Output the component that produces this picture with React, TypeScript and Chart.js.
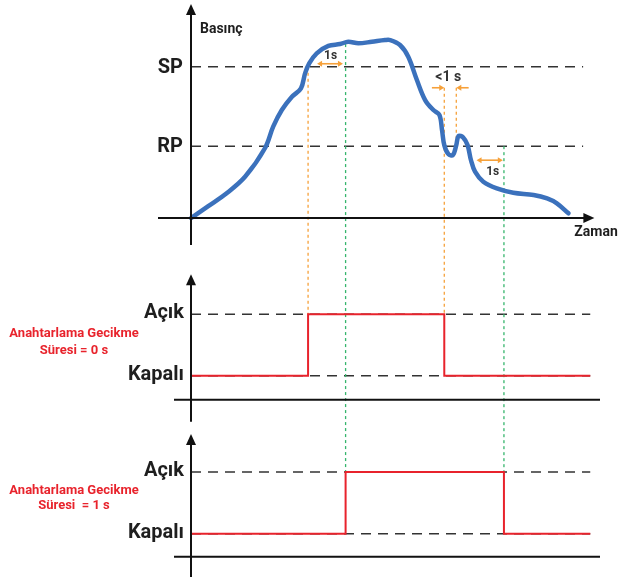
import React, { useEffect, useRef } from "react";
import { Chart, registerables } from "chart.js";

Chart.register(...registerables);

// ---- Data ----
// Pressure curve (time in s, pressure in arbitrary units)
const timeS = [0, 0.46, 0.95, 1.44, 1.97, 2.19, 2.42, 2.69, 2.93, 3.04, 3.15, 3.35, 3.66, 3.97, 4.19, 4.46, 4.82, 5.17, 5.31, 5.57, 5.79, 6.02, 6.24, 6.46, 6.62, 6.69, 6.75, 6.86, 6.98, 7.07, 7.13, 7.25, 7.37, 7.46, 7.57, 7.79, 8.15, 8.59, 9.13, 9.49, 9.75, 10.06];
const pressure = [0, 0.63, 1.31, 2.18, 3.69, 4.83, 5.71, 6.41, 6.86, 7.65, 8.18, 8.71, 9.1, 9.2, 9.32, 9.24, 9.32, 9.41, 9.41, 9.15, 8.53, 7.3, 6.24, 5.71, 5.45, 4.65, 3.86, 3.38, 3.33, 3.86, 4.34, 4.27, 3.86, 3.07, 2.45, 1.92, 1.57, 1.34, 1.22, 1.04, 0.78, 0.25];

const pressureTickLabels = ["SP", "RP"];
const pressureTickValues = [8, 3.8];

// Event times (s)
const spCrossUp = 3.12;
const rpCrossDown = 6.75;
const rpCrossBack = 7.07;
const rpCrossFinal = 7.34;
const delaySeconds = 1;
const endTime = 10.64;

// Switching output, delay = 0 s
const signal0Times = [0, spCrossUp, rpCrossDown, endTime];
const signal0States = [0, 1, 0, 0];
// Switching output, delay = 1 s
const signal1Times = [0, spCrossUp + delaySeconds, rpCrossFinal + delaySeconds, endTime];
const signal1States = [0, 1, 0, 0];

const stateLabels = ["Açık", "Kapalı"];
const stateValues = [1, 0];

const delayLabels0 = ["Anahtarlama Gecikme", "Süresi = 0 s"];
const delayLabels1 = ["Anahtarlama Gecikme", "Süresi  = 1 s"];

const xAxisTitle = "Zaman";
const yAxisTitle = "Basınç";
const annTop = "1s";
const annMid = "<1 s";
const annBottom = "1s";

// ---- Styles ----
const FONT = "Roboto, 'Noto Sans', 'Liberation Sans', sans-serif";
const BLUE = "#3b71bc";
const RED = "#e8232c";
const ORANGE = "#f6a13a";
const GREEN = "#35b56c";
const DASH_GRAY = "#333333";
const AXIS = "#111111";
const TEXT = "#1e1e1e";

function seg(ctx: CanvasRenderingContext2D, x1: number, y1: number, x2: number, y2: number) {
  ctx.beginPath();
  ctx.moveTo(x1, y1);
  ctx.lineTo(x2, y2);
  ctx.stroke();
}

function tri(ctx: CanvasRenderingContext2D, pts: number[][]) {
  ctx.beginPath();
  ctx.moveTo(pts[0][0], pts[0][1]);
  ctx.lineTo(pts[1][0], pts[1][1]);
  ctx.lineTo(pts[2][0], pts[2][1]);
  ctx.closePath();
  ctx.fill();
}

function upArrowAxis(ctx: CanvasRenderingContext2D, x: number, yBottom: number, yTip: number) {
  seg(ctx, x, yBottom, x, yTip + 8);
  tri(ctx, [[x, yTip], [x - 5, yTip + 11], [x + 5, yTip + 11]]);
}

function rightArrowAxis(ctx: CanvasRenderingContext2D, y: number, xLeft: number, xTip: number) {
  seg(ctx, xLeft, y, xTip - 8, y);
  tri(ctx, [[xTip, y], [xTip - 11, y - 5], [xTip - 11, y + 5]]);
}

function smallArrow(ctx: CanvasRenderingContext2D, xFrom: number, xTip: number, y: number) {
  const d = xTip > xFrom ? 1 : -1;
  seg(ctx, xFrom, y, xTip - d * 3, y);
  tri(ctx, [[xTip, y], [xTip - d * 5, y - 3], [xTip - d * 5, y + 3]]);
}

function doubleArrow(ctx: CanvasRenderingContext2D, x1: number, x2: number, y: number) {
  seg(ctx, x1 + 3, y, x2 - 3, y);
  tri(ctx, [[x1, y], [x1 + 5, y - 3], [x1 + 5, y + 3]]);
  tri(ctx, [[x2, y], [x2 - 5, y - 3], [x2 - 5, y + 3]]);
}

const overlayPlugin = {
  id: "overlay",
  beforeDatasetsDraw(chart: any) {
    const ctx: CanvasRenderingContext2D = chart.ctx;
    const x = chart.scales.x;
    const yP = chart.scales.yP;
    const y0 = chart.scales.y0;
    const y1 = chart.scales.y1;
    const X = (t: number) => x.getPixelForValue(t);
    ctx.save();
    // horizontal dashed reference lines
    ctx.strokeStyle = DASH_GRAY;
    ctx.lineWidth = 1.5;
    ctx.setLineDash([10, 7]);
    pressureTickValues.forEach((v) => seg(ctx, X(0), yP.getPixelForValue(v), X(10.45), yP.getPixelForValue(v)));
    stateValues.forEach((v) => {
      seg(ctx, X(0), y0.getPixelForValue(v), X(endTime), y0.getPixelForValue(v));
      seg(ctx, X(0), y1.getPixelForValue(v), X(endTime), y1.getPixelForValue(v));
    });
    // vertical dotted event lines
    ctx.setLineDash([3, 3]);
    ctx.lineWidth = 1.3;
    const annY = yP.getPixelForValue(pressureTickValues[0]) + 21;
    ctx.strokeStyle = ORANGE;
    seg(ctx, X(spCrossUp), yP.getPixelForValue(pressureTickValues[0]), X(spCrossUp), y0.getPixelForValue(1));
    seg(ctx, X(rpCrossDown), annY, X(rpCrossDown), y0.getPixelForValue(1));
    seg(ctx, X(rpCrossBack), annY, X(rpCrossBack), yP.getPixelForValue(4.0));
    ctx.strokeStyle = GREEN;
    seg(ctx, X(spCrossUp + delaySeconds), yP.getPixelForValue(9.2), X(spCrossUp + delaySeconds), y1.getPixelForValue(1));
    seg(ctx, X(rpCrossFinal + delaySeconds), yP.getPixelForValue(pressureTickValues[1]), X(rpCrossFinal + delaySeconds), y1.getPixelForValue(1));
    ctx.restore();
  },
  afterDatasetsDraw(chart: any) {
    const ctx: CanvasRenderingContext2D = chart.ctx;
    const x = chart.scales.x;
    const yP = chart.scales.yP;
    const y0 = chart.scales.y0;
    const y1 = chart.scales.y1;
    const X = (t: number) => x.getPixelForValue(t);
    const ax = X(0);
    ctx.save();
    ctx.setLineDash([]);
    ctx.strokeStyle = AXIS;
    ctx.fillStyle = AXIS;
    ctx.lineWidth = 2;

    // top panel axes
    const p0 = yP.getPixelForValue(0);
    upArrowAxis(ctx, ax, p0 + 27, 4);
    rightArrowAxis(ctx, p0, ax - 33, X(10.75));

    // panel 2 axes
    const k0 = y0.getPixelForValue(0);
    const a0 = y0.getPixelForValue(1);
    upArrowAxis(ctx, ax, k0 + 46, a0 - 40);
    seg(ctx, ax - 17, k0 + 24, X(10.9), k0 + 24);

    // panel 3 axes
    const k1 = y1.getPixelForValue(0);
    const a1 = y1.getPixelForValue(1);
    upArrowAxis(ctx, ax, chart.height, a1 - 38);
    seg(ctx, ax - 17, k1 + 23, X(10.9), k1 + 23);

    // axis titles
    ctx.fillStyle = TEXT;
    ctx.textBaseline = "middle";
    ctx.textAlign = "left";
    ctx.font = `bold 14px ${FONT}`;
    ctx.fillText(yAxisTitle, ax + 9, 29);
    ctx.fillText(xAxisTitle, X(10.75) - 20, p0 + 14);

    // level labels
    ctx.textAlign = "right";
    ctx.font = `bold 20px ${FONT}`;
    pressureTickValues.forEach((v, i) => ctx.fillText(pressureTickLabels[i], ax - 8, yP.getPixelForValue(v) + 1));
    stateValues.forEach((v, i) => {
      ctx.fillText(stateLabels[i], ax - 7, y0.getPixelForValue(v) - 1);
      ctx.fillText(stateLabels[i], ax - 7, y1.getPixelForValue(v) - 1);
    });

    // delay labels
    ctx.fillStyle = RED;
    ctx.textAlign = "center";
    ctx.font = `bold 13px ${FONT}`;
    delayLabels0.forEach((s, i) => ctx.fillText(s, 74, a0 + 19 + i * 17));
    delayLabels1.forEach((s, i) => ctx.fillText(s, 74, a1 + 19 + i * 15));

    // annotations
    const spPx = yP.getPixelForValue(pressureTickValues[0]);
    const rpPx = yP.getPixelForValue(pressureTickValues[1]);
    ctx.strokeStyle = ORANGE;
    ctx.fillStyle = ORANGE;
    ctx.lineWidth = 1.6;
    doubleArrow(ctx, X(spCrossUp + 0.24), X(spCrossUp + 0.93), spPx - 3);
    smallArrow(ctx, X(rpCrossDown - 0.33), X(rpCrossDown), spPx + 21);
    smallArrow(ctx, X(rpCrossBack + 0.33), X(rpCrossBack), spPx + 21);
    doubleArrow(ctx, X(rpCrossFinal + 0.27), X(rpCrossFinal + 0.97), rpPx + 14);

    ctx.fillStyle = "#333333";
    ctx.textAlign = "center";
    ctx.font = `bold 12px ${FONT}`;
    ctx.fillText(annTop, X(spCrossUp + 0.6), spPx - 11);
    ctx.fillText(annBottom, X(rpCrossFinal + 0.7), rpPx + 26);
    ctx.font = `bold 14px ${FONT}`;
    ctx.fillText(annMid, (X(rpCrossDown) + X(rpCrossBack)) / 2 - 2, spPx + 11);

    ctx.restore();
  },
};

export default function App() {
  const canvasRef = useRef<HTMLCanvasElement | null>(null);

  useEffect(() => {
    if (!canvasRef.current) return;
    const chart = new Chart(canvasRef.current, {
      type: "line",
      data: {
        datasets: [
          {
            label: "Basınç",
            data: timeS.map((t, i) => ({ x: t, y: pressure[i] })),
            borderColor: BLUE,
            borderWidth: 4.5,
            pointRadius: 0,
            tension: 0.35,
            borderCapStyle: "round",
            borderJoinStyle: "round",
            yAxisID: "yP",
            clip: false,
          } as any,
          {
            label: "Gecikme 0 s",
            data: signal0Times.map((t, i) => ({ x: t, y: signal0States[i] })),
            borderColor: RED,
            borderWidth: 2,
            pointRadius: 0,
            stepped: "before",
            yAxisID: "y0",
            clip: false,
          } as any,
          {
            label: "Gecikme 1 s",
            data: signal1Times.map((t, i) => ({ x: t, y: signal1States[i] })),
            borderColor: RED,
            borderWidth: 2,
            pointRadius: 0,
            stepped: "before",
            yAxisID: "y1",
            clip: false,
          } as any,
        ],
      },
      options: {
        animation: false,
        responsive: false,
        maintainAspectRatio: false,
        layout: { padding: { left: 191, right: 21, top: 0, bottom: 0 } },
        plugins: { legend: { display: false }, tooltip: { enabled: false } },
        events: [],
        scales: {
          x: { type: "linear", min: 0, max: 10.9, display: false },
          yP: { type: "linear", min: -18.98, max: 11.53, display: false },
          y0: { type: "linear", min: -3.27, max: 6.11, display: false },
          y1: { type: "linear", min: -0.7, max: 8.65, display: false },
        },
      } as any,
      plugins: [overlayPlugin],
    });
    return () => chart.destroy();
  }, []);

  return (
    <div style={{ position: "absolute", left: 0, top: 0, width: 621, height: 577, background: "#fff" }}>
      <canvas ref={canvasRef} width={621} height={577} style={{ width: 621, height: 577, display: "block" }} />
    </div>
  );
}
